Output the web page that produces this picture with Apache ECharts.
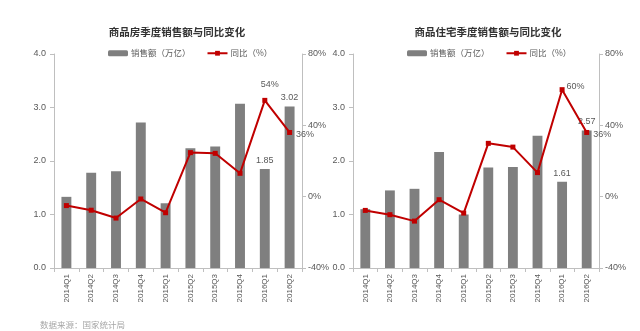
<!DOCTYPE html>
<html>
<head>
<meta charset="utf-8">
<script src="https://cdn.jsdelivr.net/npm/echarts@6/dist/echarts.min.js"></script>
<style>
html,body{margin:0;padding:0;background:#fff;}
#c{width:640px;height:331px;}
</style>
</head>
<body>
<div id="c"></div>
<script>
const categories = ['2014Q1','2014Q2','2014Q3','2014Q4','2015Q1','2015Q2','2015Q3','2015Q4','2016Q1','2016Q2'];
const salesAll = [1.33, 1.78, 1.81, 2.72, 1.21, 2.24, 2.27, 3.07, 1.85, 3.02];
const yoyAll = [-5, -7.6, -12, -1.3, -9, 24.7, 24.3, 13.1, 54, 36];
const salesHousing = [1.10, 1.45, 1.48, 2.17, 1.00, 1.88, 1.89, 2.47, 1.61, 2.57];
const yoyHousing = [-7.7, -10.1, -13.7, -1.7, -9.2, 29.9, 27.8, 13.5, 60, 36];
const titles = ['商品房季度销售额与同比变化', '商品住宅季度销售额与同比变化'];
const seriesNames = ['销售额（万亿）', '同比（%）'];
const sourceText = '数据来源：国家统计局';

const FONT = '"Liberation Sans", "Noto Sans CJK SC", sans-serif';
const CJK = '"Noto Sans CJK SC", sans-serif';
const AXIS_COLOR = '#bfbfbf';
const TEXT_COLOR = '#595959';
const BAR_COLOR = '#7f7f7f';
const LINE_COLOR = '#c00000';

const chart = echarts.init(document.getElementById('c'), null, {renderer: 'canvas'});

function barData(arr) {
  return arr.map((v, i) => i >= arr.length - 2
    ? {value: v, label: {show: true, position: 'top', distance: 4, color: TEXT_COLOR, fontSize: 9, fontFamily: FONT, formatter: p => p.value.toFixed(2)}}
    : v);
}
function lineData(arr, lastButOneLabel) {
  return arr.map((v, i) => {
    if (i === arr.length - 2) return {value: v, label: Object.assign({show: true, color: TEXT_COLOR, fontSize: 9, fontFamily: FONT, formatter: p => Math.round(p.value) + '%'}, lastButOneLabel)};
    if (i === arr.length - 1) return {value: v, label: {show: true, position: 'right', distance: 4, offset: [0, 2], color: TEXT_COLOR, fontSize: 9, fontFamily: FONT, formatter: p => Math.round(p.value) + '%'}};
    return v;
  });
}

function xAxis(gi) {
  return {
    type: 'category', gridIndex: gi, data: categories,
    axisLine: {lineStyle: {color: AXIS_COLOR}},
    axisTick: {show: true, length: 4, lineStyle: {color: AXIS_COLOR}},
    axisLabel: {rotate: 90, fontSize: 8, color: TEXT_COLOR, fontFamily: FONT, margin: 6, interval: 0}
  };
}
function yLeft(gi) {
  return {
    type: 'value', gridIndex: gi, min: 0, max: 4, interval: 1, position: 'left',
    splitLine: {show: false},
    axisLine: {show: true, lineStyle: {color: AXIS_COLOR}},
    axisTick: {show: true, length: 4, lineStyle: {color: AXIS_COLOR}},
    axisLabel: {fontSize: 9, color: TEXT_COLOR, fontFamily: FONT, margin: 8, formatter: v => v.toFixed(1)}
  };
}
function yRight(gi) {
  return {
    type: 'value', gridIndex: gi, min: -40, max: 80, interval: 40, position: 'right',
    splitLine: {show: false},
    axisLine: {show: true, lineStyle: {color: AXIS_COLOR}},
    axisTick: {show: true, length: 4, lineStyle: {color: AXIS_COLOR}},
    axisLabel: {fontSize: 9, color: TEXT_COLOR, fontFamily: FONT, margin: 6, formatter: '{value}%'}
  };
}
function legend(left) {
  return {
    left: left, top: 44, itemWidth: 20, itemHeight: 6, itemGap: 16,
    textStyle: {fontSize: 8.5, color: TEXT_COLOR, fontFamily: CJK, padding: [0, 0, 0, -2]},
    data: seriesNames
  };
}

const option = {
  backgroundColor: '#fff',
  animation: false,
  title: [
    {text: titles[0], left: 172, top: 22, textAlign: 'center', textStyle: {fontSize: 10.5, fontWeight: 'bold', color: '#333', fontFamily: CJK}},
    {text: titles[1], left: 483, top: 22, textAlign: 'center', textStyle: {fontSize: 10.5, fontWeight: 'bold', color: '#333', fontFamily: CJK}}
  ],
  legend: [legend(103), legend(402)],
  grid: [
    {left: 54, right: 338, top: 54, bottom: 63},
    {left: 353, right: 41, top: 54, bottom: 63}
  ],
  xAxis: [xAxis(0), xAxis(1)],
  yAxis: [yLeft(0), yRight(0), yLeft(1), yRight(1)],
  graphic: [{
    type: 'text', left: 40, top: 321,
    style: {text: sourceText, fill: '#a6a6a6', fontSize: 8.5, fontFamily: CJK}
  }],
  series: [
    {name: seriesNames[0], type: 'bar', xAxisIndex: 0, yAxisIndex: 0, barWidth: '40%', itemStyle: {color: BAR_COLOR}, data: barData(salesAll)},
    {name: seriesNames[1], type: 'line', xAxisIndex: 0, yAxisIndex: 1, symbol: 'rect', symbolSize: 5,
      lineStyle: {color: LINE_COLOR, width: 2}, itemStyle: {color: LINE_COLOR},
      data: lineData(yoyAll, {position: 'top', distance: 9, offset: [5, 0]})},
    {name: seriesNames[0], type: 'bar', xAxisIndex: 1, yAxisIndex: 2, barWidth: '40%', itemStyle: {color: BAR_COLOR}, data: barData(salesHousing)},
    {name: seriesNames[1], type: 'line', xAxisIndex: 1, yAxisIndex: 3, symbol: 'rect', symbolSize: 5,
      lineStyle: {color: LINE_COLOR, width: 2}, itemStyle: {color: LINE_COLOR},
      data: lineData(yoyHousing, {position: 'right', distance: 2, offset: [0, -3]})}
  ]
};
chart.setOption(option);
</script>
</body>
</html>
